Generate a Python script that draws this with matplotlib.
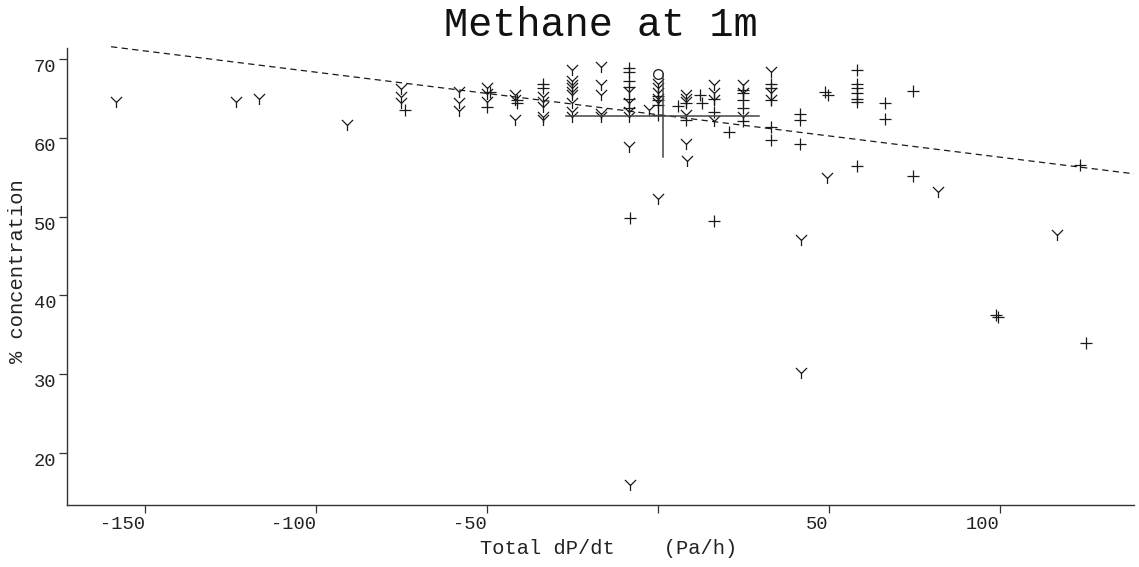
import matplotlib
matplotlib.use("Agg")
import matplotlib.pyplot as plt
from matplotlib.path import Path
import numpy as np

plt.rcParams['font.family'] = ['Liberation Mono', 'DejaVu Sans Mono']

# --- data -----------------------------------------------------------------
y_series_x = [-158.3, -123.3, -116.5, -90.9,
              -75, -75, -75,
              -58, -58, -58,
              -50, -50, -50,
              -41.7, -41.7, -41.7,
              -33.4, -33.4, -33.4, -33.4, -33.4,
              -24.9, -24.9, -24.9, -24.9, -24.9, -24.9, -24.9, -24.9, -24.9,
              -16.6, -16.6, -16.6, -16.6, -16.6,
              -8.3, -8.3, -8.3, -8.3, -8.3, -8.0,
              -2.4,
              0, 0, 0, 0, 0, 0,
              8.2, 8.2, 8.2, 8.2, 8.2, 8.5,
              16.5, 16.5, 16.5, 16.5,
              24.9, 24.9, 24.9,
              33.2, 33.2, 33.2,
              41.8, 41.8,
              49.5, 82.0, 116.8]
y_series_y = [64.6, 64.6, 65.0, 61.6,
              66.2, 65.2, 64.5,
              65.9, 64.4, 63.4,
              66.4, 65.6, 64.6,
              65.5, 64.8, 62.3,
              65.2, 64.6, 64.0, 62.7, 62.3,
              68.6, 67.2, 66.7, 66.3, 65.9, 65.5, 64.4, 63.3, 62.7,
              69.0, 66.7, 65.5, 63.1, 62.7,
              65.9, 64.4, 63.3, 62.7, 58.9, 15.9,
              63.6,
              66.9, 66.3, 65.7, 65.0, 64.4, 52.2,
              65.5, 65.0, 64.6, 62.9, 59.3, 57.1,
              66.7, 65.7, 64.8, 62.1,
              66.7, 65.7, 62.7,
              68.4, 65.7, 64.8,
              47.0, 30.2,
              54.9, 53.1, 47.7]

plus_series_x = [-74,
                 -50, -49,
                 -41.2, -41.2,
                 -33.4, -33.4,
                 -8.5, -8.5, -8.5, -8.5, -8.5, -8.5, -8.2,
                 0, 0, 0, 0,
                 6.1, 8.2, 8.2,
                 12.4, 12.9,
                 16.5, 16.5, 16.6,
                 21,
                 24.9, 24.9, 24.9, 24.9, 24.9,
                 33.2, 33.2, 33.2, 33.2, 33.2,
                 41.7, 41.7, 41.7,
                 49.0, 49.7,
                 58.4, 58.4, 58.4, 58.4, 58.4, 58.4, 58.4,
                 66.5, 66.5,
                 74.6, 74.6,
                 98.9, 99.6,
                 123.5, 125.2]
plus_series_y = [63.6,
                 64.0, 65.8,
                 64.8, 64.4,
                 66.9, 66.3,
                 68.9, 68.4, 67.2, 66.5, 65.0, 63.8, 49.8,
                 65.3, 64.8, 64.2, 62.9,
                 64.1, 64.4, 62.3,
                 65.5, 64.4,
                 65.0, 63.3, 49.4,
                 60.8,
                 66.1, 65.7, 64.8, 63.8, 62.1,
                 66.9, 66.3, 64.8, 61.4, 59.8,
                 63.1, 62.3, 59.3,
                 65.8, 65.5,
                 68.6, 66.9, 66.3, 65.7, 65.0, 64.6, 56.4,
                 64.5, 62.4,
                 66.0, 55.2,
                 37.5, 37.3,
                 56.6, 34.0]

circle_x = [0.0]
circle_y = [68.1]

# regression line (start/end) and mean cross
fit_x = [-159.8, 139.3]
fit_y = [71.6, 55.45]
cross_x = 1.5
cross_y = 62.85
cross_dx = 28.25
cross_dy = 5.25

x_ticks = [-150, -100, -50, 0, 50, 100]
x_tick_labels = ['-150', '-100', '-50', '', '50', '100']
y_ticks = [20, 30, 40, 50, 60, 70]
y_tick_labels = ['20', '30', '40', '50', '60', '70']

# --- figure ---------------------------------------------------------------
W, H = 1139, 567
fig = plt.figure(figsize=(W / 100, H / 100), dpi=100)
ax = fig.add_axes([67.3 / W, 1 - 505 / H, (1134 - 67.3) / W, (505 - 48.3) / H])

ink = '#1a1a1a'

# "Y" shaped marker: stem down, two arms at 45 degrees
y_marker = Path([(0, 0), (0, -1), (0, 0), (-1, 1), (0, 0), (1, 1)],
                [Path.MOVETO, Path.LINETO, Path.MOVETO, Path.LINETO,
                 Path.MOVETO, Path.LINETO])

ax.plot(fit_x, fit_y, linestyle=(0, (5, 3.5)), color=ink, lw=0.9, clip_on=False)

ax.plot(y_series_x, y_series_y, linestyle='none', marker=y_marker, markersize=8,
        markeredgewidth=0.9, markerfacecolor='none', color=ink)
ax.plot(plus_series_x, plus_series_y, linestyle='none', marker='+', markersize=8.5,
        markeredgewidth=0.9, color=ink)
ax.plot(circle_x, circle_y, linestyle='none', marker='o', markersize=7,
        markerfacecolor='none', markeredgewidth=0.9, color=ink)

ax.plot([cross_x - cross_dx, cross_x + cross_dx], [cross_y, cross_y], color='#444444', lw=1.1)
ax.plot([cross_x, cross_x], [cross_y - cross_dy, cross_y + cross_dy], color='#444444', lw=1.1)

ax.set_xlim(-172.6, 139.3)
ax.set_ylim(13.37, 71.4)

for s in ['top', 'right']:
    ax.spines[s].set_visible(False)
for s in ['left', 'bottom']:
    ax.spines[s].set_color('#333333')
    ax.spines[s].set_linewidth(1.0)

ax.set_xticks(x_ticks)
ax.set_xticklabels(x_tick_labels)
ax.set_yticks(y_ticks)
ax.set_yticklabels(y_tick_labels)
ax.tick_params(axis='both', direction='out', length=6, width=0.9, colors='#333333',
               labelcolor='#222222', labelsize=13.5, pad=2)
for lab in ax.get_xticklabels():
    lab.set_ha('right')
for lab in ax.get_yticklabels():
    lab.set_va('top')

fig.text(600.5 / W, 1 - 25 / H, 'Methane at 1m', ha='center', va='center',
         fontsize=29, color='#111111')
fig.text(609 / W, 1 - 549 / H, 'Total dP/dt    (Pa/h)', ha='center', va='center',
         fontsize=14.7, color='#222222')
fig.text(18 / W, 1 - 271 / H, '% concentration', ha='center', va='center',
         rotation=90, fontsize=14.7, color='#222222')

fig.savefig('out.png', dpi=100)
